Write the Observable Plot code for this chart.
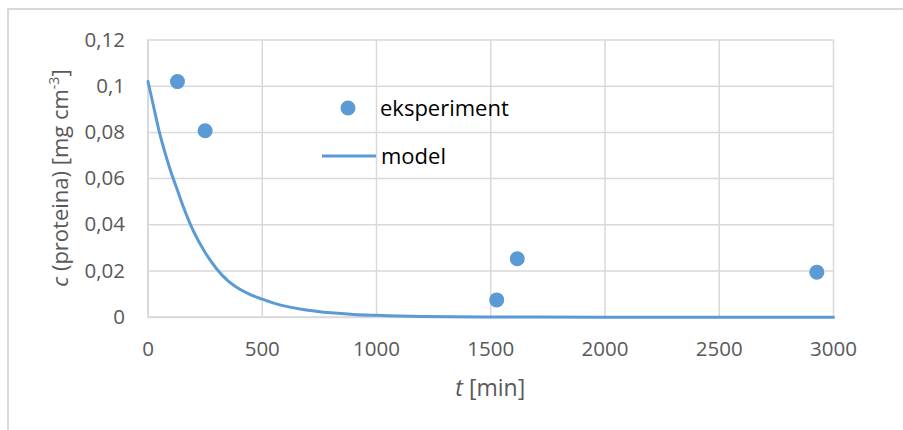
<!DOCTYPE html>
<html>
<head>
<meta charset="utf-8">
<script src="https://cdn.jsdelivr.net/npm/d3@7"></script>
<script src="https://cdn.jsdelivr.net/npm/@observablehq/plot@0.6"></script>
<style>
  html, body { margin: 0; padding: 0; background: #fff; }
  #wrap { position: relative; width: 903px; height: 430px; overflow: hidden; font-family: "Open Sans", sans-serif; }
  #border { position: absolute; left: 7px; top: 8px; width: 1000px; height: 1000px; border-left: 2px solid #d9d9d9; border-top: 2px solid #d9d9d9; box-sizing: border-box; }
  #chart { position: absolute; left: 0; top: 0; }
</style>
</head>
<body>
<div id="wrap">
  <div id="border"></div>
  <div id="chart"></div>
</div>
<script>
// experimental points
const expT = [129, 250, 1526, 1616, 2927];
const expC = [0.102, 0.0807, 0.0075, 0.0253, 0.0195];

// model curve
const modelT = [0, 25, 50, 75, 100, 125, 150, 200, 250, 300, 350, 400, 450, 500, 550, 600, 700, 800, 900, 1000, 1200, 1500, 2000, 2500, 3000];
const modelC = [0.102, 0.091, 0.080, 0.071, 0.063, 0.056, 0.049, 0.037, 0.028, 0.021, 0.0157, 0.0122, 0.0097, 0.0078, 0.0061, 0.0048, 0.0030, 0.0019, 0.0012, 0.0008, 0.0003, 0.0001, 0, 0, 0];

const xTicks = [0, 500, 1000, 1500, 2000, 2500, 3000];
const xTickLabels = ["0", "500", "1000", "1500", "2000", "2500", "3000"];
const yTicks = [0, 0.02, 0.04, 0.06, 0.08, 0.1, 0.12];
const yTickLabels = ["0", "0,02", "0,04", "0,06", "0,08", "0,1", "0,12"];

const seriesNames = ["eksperiment", "model"];
const blue = "#5b9bd5";
const grid = "#d9d9d9";
const tickColor = "#595959";

const expData = expT.map((t, i) => ({t, c: expC[i]}));
const modelData = modelT.map((t, i) => ({t, c: modelC[i]}));

const W = 903, H = 430;
const mL = 147.5, mR = 70, mT = 39.5, mB = 113.3;

const plot = Plot.plot({
  width: W, height: H,
  marginLeft: mL, marginRight: mR, marginTop: mT, marginBottom: mB,
  style: {fontFamily: "'Open Sans', sans-serif", fontSize: "20px", background: "transparent", overflow: "visible"},
  x: {domain: [0, 3000], label: null},
  y: {domain: [0, 0.12], label: null},
  marks: [
    Plot.gridX(xTicks, {stroke: grid, strokeOpacity: 1, strokeWidth: 1.5}),
    Plot.gridY(yTicks, {stroke: grid, strokeOpacity: 1, strokeWidth: 1.5}),
    Plot.ruleY([0], {stroke: grid, strokeWidth: 2}),
    Plot.ruleX([0], {stroke: grid, strokeWidth: 2}),
    Plot.axisX(xTicks, {tickSize: 0, tickPadding: 24, fill: tickColor, fontSize: 20.5, tickFormat: (d, i) => xTickLabels[i], label: null}),
    Plot.axisY(yTicks, {tickSize: 0, tickPadding: 23, fill: tickColor, fontSize: 20.5, tickFormat: (d, i) => yTickLabels[i], label: null}),
    Plot.line(modelData, {x: "t", y: "c", stroke: blue, strokeWidth: 3, curve: "monotone-x"}),
    Plot.dot(expData, {x: "t", y: "c", r: 7.5, fill: blue, stroke: "none"})
  ]
});
document.getElementById("chart").appendChild(plot);

const svg = d3.select(plot);
// y-axis title
const yt = svg.append("text")
  .attr("transform", `translate(68, ${(mT + H - mB) / 2}) rotate(-90)`)
  .attr("text-anchor", "middle")
  .attr("fill", tickColor)
  .style("font-size", "22px")
  .style("font-family", "'Open Sans', sans-serif");
yt.append("tspan").style("font-style", "italic").text("c");
yt.append("tspan").text(" (proteina) [mg cm");
yt.append("tspan").style("font-size", "14px").attr("dy", -9).text("-3");
yt.append("tspan").attr("dy", 9).text("]");

// x-axis title
const xt = svg.append("text")
  .attr("x", (mL + W - mR) / 2)
  .attr("y", 396)
  .attr("text-anchor", "middle")
  .attr("fill", tickColor)
  .style("font-size", "23px")
  .style("font-family", "'Open Sans', sans-serif");
xt.append("tspan").style("font-style", "italic").text("t");
xt.append("tspan").text(" [min]");

// legend
const lg = svg.append("g").style("font-family", "'Open Sans', sans-serif").style("font-size", "22px").attr("text-anchor", "start");
lg.append("circle").attr("cx", 348).attr("cy", 108).attr("r", 7.5).attr("fill", blue);
lg.append("text").attr("x", 380).attr("y", 108).attr("dy", "0.35em").attr("fill", "#000").text(seriesNames[0]);
lg.append("line").attr("x1", 322).attr("x2", 376).attr("y1", 156).attr("y2", 156).attr("stroke", blue).attr("stroke-width", 3);
lg.append("text").attr("x", 381).attr("y", 156).attr("dy", "0.35em").attr("fill", "#000").text(seriesNames[1]);
</script>
</body>
</html>
